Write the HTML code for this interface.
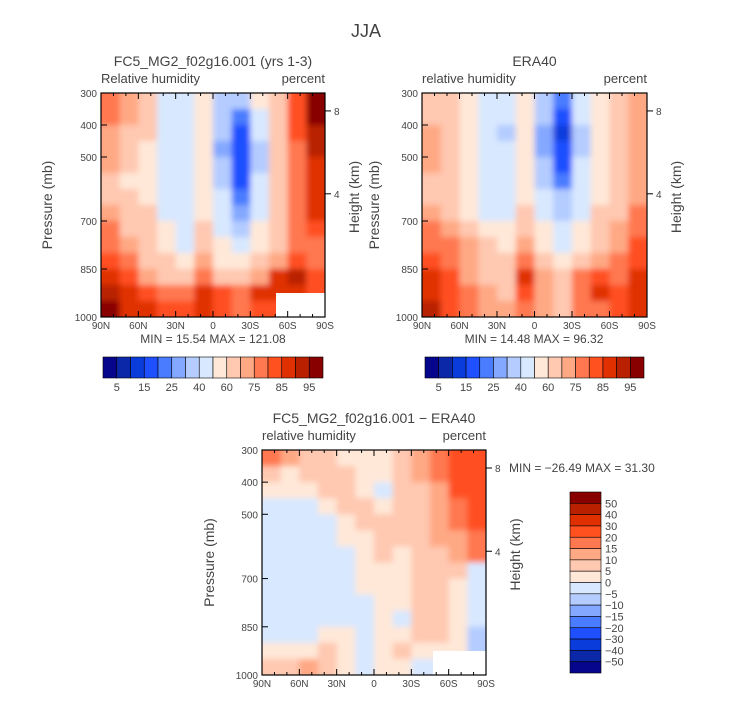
<!DOCTYPE html>
<html><head><meta charset="utf-8"><style>
body{margin:0;background:#fff;font-family:"Liberation Sans",sans-serif;overflow:hidden;}
svg text{font-family:"Liberation Sans",sans-serif;fill:#444;}
</style></head><body>
<svg id="fig" width="733" height="699" viewBox="0 0 733 699" xmlns="http://www.w3.org/2000/svg">
<defs><filter id="soft" x="-5%" y="-5%" width="110%" height="110%"><feGaussianBlur stdDeviation="2.8"/></filter></defs>
<text x="366" y="37" text-anchor="middle" font-size="18">JJA</text>
</svg>
<script>
const palette=["#06068c","#0a28a8","#0a3cdc","#1e50ff","#4a7cff","#84a8ff","#b4ccff","#d8e8ff","#ffe8d8","#ffc8b0","#ffa884","#ff7850","#ff5020","#e03000","#b82000","#880000"];
const rhLevels=[5,10,15,20,25,30,40,50,60,70,75,80,85,90,95];
const diffLevels=[-50,-40,-30,-20,-15,-10,-5,0,5,10,15,20,30,40,50];
const rhLabels=["5","15","25","40","60","75","85","95"];
const diffLabels=["50","40","30","20","15","10","5","0","\u22125","\u221210","\u221215","\u221220","\u221230","\u221240","\u221250"];
const latLabels=["90N","60N","30N","0","30S","60S","90S"];
const presTicks=[300,400,500,700,850,1000];
const heightTicks=[8,4];
const heightTickP=[356,615];
const nCols=12, pTop=300, pBot=1000;
const model=[
[78,72,62,45,45,55,38,30,50,65,80,95],
[75,70,62,45,42,52,33,22,46,65,82,95],
[72,68,60,45,40,55,30,17,40,62,80,92],
[70,65,58,45,45,52,28,16,38,62,78,90],
[70,62,55,45,45,53,30,17,38,62,78,88],
[68,58,55,45,45,55,35,19,40,62,78,88],
[68,60,58,47,45,55,40,23,43,62,78,88],
[72,62,60,48,45,58,44,28,47,65,78,86],
[75,65,62,52,48,60,48,36,52,65,75,80],
[78,70,65,58,48,65,52,45,58,68,75,78],
[82,75,68,62,55,70,58,52,62,72,82,78],
[88,80,72,65,62,75,65,60,70,85,90,80],
[90,85,82,78,75,88,80,78,85,86,86,80],
[95,88,85,82,82,85,82,78,80,82,82,80]];
const era=[
[62,62,55,45,42,52,36,22,45,58,62,72],
[68,62,55,45,40,55,30,18,42,58,62,70],
[72,65,57,45,38,55,28,14,38,58,62,70],
[72,65,57,45,40,55,28,15,38,58,62,70],
[70,63,55,45,45,55,30,19,40,58,62,70],
[68,62,55,45,45,55,36,24,42,58,63,72],
[68,62,55,45,45,57,42,30,45,58,65,72],
[70,65,58,48,45,60,45,35,48,60,68,75],
[75,70,65,55,50,65,50,42,52,62,70,78],
[78,75,70,60,55,72,55,48,58,65,72,80],
[82,78,70,65,60,78,62,55,65,72,75,82],
[88,80,72,68,65,85,70,62,75,82,78,85],
[88,82,75,70,68,80,72,65,78,85,80,85],
[90,82,78,72,70,75,70,65,75,78,80,88]];
const diff=[
[15,10,7,7,3,3,3,7,12,18,25,28],
[5,3,5,6,6,2,2,6,10,16,25,28],
[2,2,3,6,6,2,-2,7,8,14,22,25],
[-2,-2,-2,3,6,5,2,8,8,12,18,22],
[-2,-2,-2,-2,2,6,6,6,7,11,15,20],
[-3,-2,-2,-2,2,2,6,5,6,10,12,18],
[-3,-2,-2,-2,-2,2,6,4,6,9,11,15],
[-2,-2,-2,-2,-2,2,3,3,5,7,8,-3],
[-2,-2,-2,-2,-2,2,2,3,5,7,3,-3],
[-2,-2,-2,-2,-2,-2,2,3,5,7,2,-3],
[-2,-2,-2,-2,-2,-2,2,-2,5,6,2,-5],
[-2,-2,-2,2,2,-2,2,3,5,5,2,-8],
[2,3,3,6,3,-2,2,6,3,3,2,-8],
[6,8,10,8,2,-2,2,2,-2,-2,2,-5]];

const NS="http://www.w3.org/2000/svg";
const svg=document.getElementById('fig');
const defs=svg.querySelector('defs');
function mk(tag,attrs,parent,txt){const e=document.createElementNS(NS,tag);for(const k in attrs)e.setAttribute(k,attrs[k]);if(txt!==undefined)e.textContent=txt;(parent||svg).appendChild(e);return e;}
function colorFor(v,levels){let i=0;while(i<levels.length&&v>=levels[i])i++;return palette[i];}
let clipN=0;
function panel(o){
  const g=mk('g',{});
  
  
  const W=o.x1-o.x0,H=o.y1-o.y0;
  const xs=c=>o.x0+c*W/nCols;
  const ys=p=>o.y0+(p-pTop)/(pBot-pTop)*H;
  const rows=o.data.length, dp=(pBot-pTop)/rows;
  const cid='clip'+(clipN++);
  const cp=mk('clipPath',{id:cid},defs);mk('rect',{x:o.x0,y:o.y0,width:W,height:H},cp);
  const outer=mk('g',{'clip-path':`url(#${cid})`},g);
  const cells=mk('g',{filter:'url(#soft)'},outer);
  
  
  o.data.forEach((row,r)=>row.forEach((v,c)=>{
    if(v===null)return;
    const ex0=c===0?8:0, ex1=c===nCols-1?8:0, ey0=r===0?8:0, ey1=r===rows-1?8:0;
    const cell=mk('rect',{x:xs(c)-ex0,y:ys(pTop+r*dp)-ey0,width:W/nCols+0.6+ex0+ex1,height:H/rows+0.6+ey0+ey1,fill:colorFor(v,o.levels)},cells);
    
    
  }));
  if(o.mask){const m=mk('rect',{x:o.mask[0],y:o.mask[1],width:o.x1-o.mask[0],height:o.y1-o.mask[1],fill:'#fff'},g);
    }
  const fr=mk('rect',{x:o.x0,y:o.y0,width:W,height:H,fill:'none',stroke:'#000','stroke-width':1.2},g);
  
  for(let k=0;k<=18;k++){const x=o.x0+k*W/18;const len=(k%3==0)?6:3;
    mk('line',{x1:x,y1:o.y1,x2:x,y2:o.y1-len,stroke:'#000'},g);mk('line',{x1:x,y1:o.y0,x2:x,y2:o.y0+len,stroke:'#000'},g);}
  latLabels.forEach((l,i)=>{const t=mk('text',{x:o.x0+i*W/6,y:o.y1+12,'text-anchor':'middle','font-size':10},g,l);
    });
  presTicks.forEach(p=>{const y=ys(p);mk('line',{x1:o.x0,y1:y,x2:o.x0+6,y2:y,stroke:'#000'},g);
    const t=mk('text',{x:o.x0-4,y:y+4,'text-anchor':'end','font-size':10},g,String(p));
    });
  heightTicks.forEach((h,i)=>{const y=ys(heightTickP[i]);mk('line',{x1:o.x1,y1:y,x2:o.x1+6,y2:y,stroke:'#000'},g);
    const t=mk('text',{x:o.x1+9,y:y+4,'font-size':10},g,String(h));
    });
  const yt=mk('text',{x:0,y:0,'text-anchor':'middle','font-size':14,transform:`translate(${o.x0-(o.pOff||48)},${(o.y0+o.y1)/2}) rotate(-90)`},g,'Pressure (mb)');
  
  const ht=mk('text',{x:0,y:0,'text-anchor':'middle','font-size':14,transform:`translate(${o.x1+34},${(o.y0+o.y1)/2-8}) rotate(-90)`},g,'Height (km)');
  
  const ti=mk('text',{x:(o.x0+o.x1)/2,y:o.y0-27,'text-anchor':'middle','font-size':14},g,o.title);
  
  const lv=mk('text',{x:o.x0,y:o.y0-10,'font-size':13},g,o.left);
  
  const un=mk('text',{x:o.x1,y:o.y0-10,'text-anchor':'end','font-size':13},g,'percent');
  
  if(o.minmax){const mm=mk('text',{x:o.minmax[0],y:o.minmax[1],'text-anchor':o.minmax[2],'font-size':12,'xml:space':'preserve'},g,o.minmaxText);
    }
}
function hbar(x0,x1,y0,y1,name){
  const g=mk('g',{});
  const w=(x1-x0)/16;
  palette.forEach((c,i)=>{const r=mk('rect',{x:x0+i*w,y:y0,width:w,height:y1-y0,fill:c,stroke:'#000','stroke-width':0.6},g);
    });
  rhLabels.forEach((l,i)=>{const t=mk('text',{x:x0+(2*i+1)*w,y:y1+13,'text-anchor':'middle','font-size':11},g,l);
    });
}
panel({name:'model-panel',data:model,levels:rhLevels,x0:101,x1:325,y0:93,y1:317,pOff:49,title:'FC5_MG2_f02g16.001 (yrs 1-3)',left:'Relative humidity',mask:[276,293],minmax:[213,343,'middle'],minmaxText:'MIN =  15.54   MAX =  121.08'});
panel({name:'era40-panel',data:era,levels:rhLevels,x0:422,x1:647,y0:93,y1:317,pOff:43,title:'ERA40',left:'relative humidity',minmax:[534,343,'middle'],minmaxText:'MIN =  14.48   MAX =   96.32'});
panel({name:'difference-panel',data:diff,levels:diffLevels,x0:262,x1:486,y0:450,y1:675,pOff:48,title:'FC5_MG2_f02g16.001 \u2212 ERA40',left:'relative humidity',mask:[433,651],minmax:[509,472,'start'],minmaxText:'MIN = \u221226.49   MAX =   31.30'});
hbar(103,323,357,378,'model-colorbar');
hbar(425,644,357,378,'era40-colorbar');
(function(){
  const g=mk('g',{});
  const x0=570,x1=601,y0=492,y1=673,h=(y1-y0)/16;
  palette.slice().reverse().forEach((c,i)=>{const r=mk('rect',{x:x0,y:y0+i*h,width:x1-x0,height:h,fill:c,stroke:'#000','stroke-width':0.6},g);
    });
  diffLabels.forEach((l,i)=>{const t=mk('text',{x:605,y:y0+(i+1)*h+4,'font-size':11},g,l);
    });
})();
</script>
</body></html>
